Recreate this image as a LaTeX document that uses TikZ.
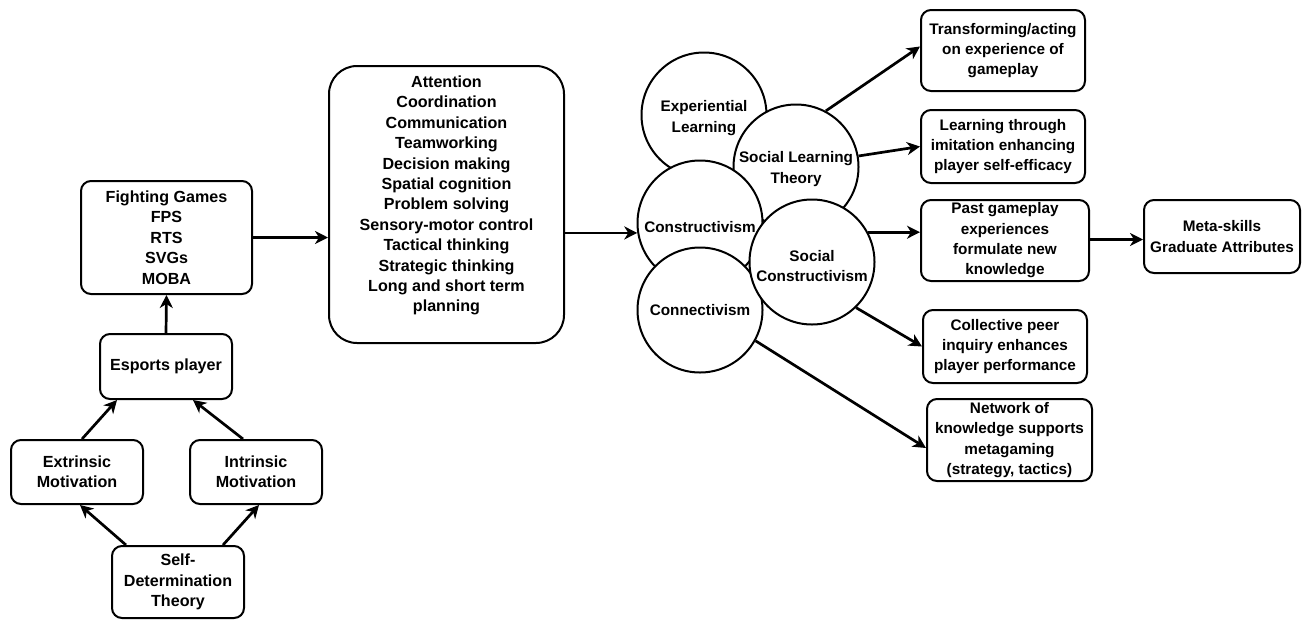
\documentclass[tikz,border=0pt]{standalone}
\usepackage{fontspec}
\setmainfont{Liberation Sans}
\usetikzlibrary{arrows.meta}
\begin{document}
\begin{tikzpicture}[x=1pt,y=-1pt,
  every node/.style={font=\fontsize{15.3}{20.3}\selectfont\bfseries, align=center, inner sep=0pt},
  big/.style={font=\fontsize{16.1}{20.4}\selectfont\bfseries},
  box/.style={draw, line width=2pt, rounded corners=10pt, fill=white},
  circ/.style={draw, circle, line width=2pt, fill=white, minimum size=125pt},
  arr/.style={line width=2.7pt, -{Stealth[length=13pt,width=13pt,inset=4pt]}}]
\useasboundingbox (0,0) rectangle (1309,619);
% left column
\node[box, big, minimum width=171pt, minimum height=113pt] (games) at (166.5,237.5) {Fighting Games\\FPS\\RTS\\SVGs\\MOBA};
\node[box, big, minimum width=132pt, minimum height=65pt] (esports) at (166,366.5) {Esports player};
\node[box, big, minimum width=132pt, minimum height=64pt] (extr) at (77,472) {Extrinsic\\Motivation};
\node[box, big, minimum width=132pt, minimum height=64pt] (intr) at (256,472) {Intrinsic\\Motivation};
\node[box, big, minimum width=132pt, minimum height=72pt] (sdt) at (178,582) {Self-\\Determination\\Theory};
% middle
\node[box, rounded corners=28pt, minimum width=235pt, minimum height=277pt] (mid) at (446.5,204.5) {};
\node[big] (midtext) at (446.5,195.5) {Attention\\Coordination\\Communication\\Teamworking\\Decision making\\Spatial cognition\\Problem solving\\Sensory-motor control\\Tactical thinking\\Strategic thinking\\Long and short term\\planning};
% circles
\node[circ] (exp) at (704,115) {};
\node at (704,118) {Experiential\\Learning};
\node[circ] (slt) at (796,167) {};
\node at (796,169) {Social Learning\\Theory};
\node[circ] (cons) at (700,223) {};
\node[circ] (conn) at (700,310) {};
\node[circ] (sc) at (812,262) {};
\node at (700,227) {Constructivism};
\node at (812,266) {Social\\Constructivism};
\node at (700,310) {Connectivism};
% right boxes
\node[box, minimum width=164pt, minimum height=81pt] (trans) at (1003,50.5) {Transforming/acting\\on experience of\\gameplay};
\node[box, minimum width=164pt, minimum height=73pt] (learn) at (1003,146.5) {Learning through\\imitation enhancing\\player self-efficacy};
\node[box, minimum width=168pt, minimum height=81pt] (past) at (1005,240.5) {Past gameplay\\experiences\\formulate new\\knowledge};
\node[box, minimum width=156pt, minimum height=73pt] (meta) at (1222,236.5) {Meta-skills\\Graduate Attributes};
\node[box, minimum width=164pt, minimum height=73pt] (coll) at (1005,346.5) {Collective peer\\inquiry enhances\\player performance};
\node[box, minimum width=165pt, minimum height=82pt] (net) at (1009.5,440) {Network of\\knowledge supports\\metagaming\\(strategy, tactics)};
% arrows left
\draw[arr] ([xshift=15pt]sdt.north west) -- ([xshift=3pt]extr.south);
\draw[arr] ([xshift=-22pt]sdt.north east) -- ([xshift=3pt]intr.south);
\draw[arr] ([xshift=5pt]extr.north) -- ([xshift=18pt]esports.south west);
\draw[arr] ([xshift=-13pt]intr.north) -- ([xshift=-40pt]esports.south east);
\draw[arr] (esports.north) -- (games.south);
\draw[arr] (games.east) -- (games.east -| mid.west);
\draw[arr] (cons.189 -| mid.east) -- (cons.189);
% arrows right
\draw[arr] (slt.62) -- ([yshift=4pt]trans.west);
\draw[arr] (slt.10) -- (learn.west);
\draw[arr] (sc.28) -- (sc.28 -| past.west);
\draw[arr] ([yshift=-3pt]meta.west -| past.east) -- ([yshift=-3pt]meta.west);
\draw[arr] (sc.-46) -- (coll.west);
\draw[arr] (conn.-29) -- ([yshift=-8pt]net.west);
\end{tikzpicture}
\end{document}
